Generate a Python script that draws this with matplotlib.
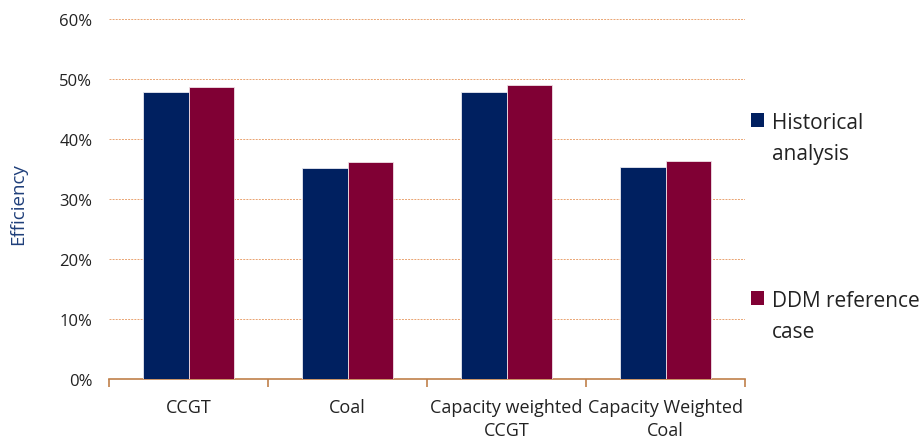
import numpy as np
import matplotlib.pyplot as plt
from matplotlib.patches import Rectangle

categories = ["CCGT", "Coal", "Capacity weighted\nCCGT", "Capacity Weighted\nCoal"]
historical = [47.8, 35.1, 47.9, 35.3]
ddm_reference = [48.6, 36.1, 49.0, 36.4]
series_labels = ["Historical\nanalysis", "DDM reference\ncase"]
yticks = [0, 10, 20, 30, 40, 50, 60]

navy = "#002060"
maroon = "#800034"
brown = "#C0804A"

plt.rcParams['font.family'] = ['Open Sans', 'DejaVu Sans']

W, H = 924, 439
fig = plt.figure(figsize=(W / 100, H / 100), dpi=100)
ax = fig.add_axes([109 / W, 59 / H, 636 / W, 360 / H])

x = np.arange(len(categories))
w = 0.285
ax.bar(x - w / 2, historical, w, color=navy, edgecolor="#e8e8f0", linewidth=0.6, zorder=3)
ax.bar(x + w / 2, ddm_reference, w, color=maroon, edgecolor="#f0e0e6", linewidth=0.6, zorder=3)

ax.set_xlim(-0.5, len(categories) - 0.5)
ax.set_ylim(0, 60)
ax.set_yticks(yticks)
ax.set_yticklabels([f"{v}%" for v in yticks], fontsize=12, color="#222222")
ax.tick_params(axis="y", length=0, pad=12)
ax.yaxis.grid(True, color="#E9A472", linestyle=(0, (2, 1.2)), linewidth=0.7, zorder=0)

ax.set_xticks(x)
ax.set_xticklabels(categories, fontsize=13, color="#222222", linespacing=1.3)
ax.tick_params(axis="x", length=0, pad=14)
ax.set_xticks(np.arange(-0.5, len(categories)), minor=True)
ax.tick_params(axis="x", which="minor", length=6, color=brown, width=1.2, direction="out")

for s in ["top", "right", "left"]:
    ax.spines[s].set_visible(False)
ax.spines["bottom"].set_color(brown)
ax.spines["bottom"].set_linewidth(1.2)

fig.text(18 / W, 1 - 204 / H, "Efficiency", rotation=90, ha="center", va="center",
         fontsize=13.5, color="#1F3F7A")

# legend: square aligned with the first text line, as in office charts
for color, label, sq_top, last_base in zip([navy, maroon], series_labels, [114, 292], [160, 338]):
    fig.patches.append(Rectangle((751 / W, 1 - (sq_top + 14) / H), 13 / W, 14 / H,
                                 facecolor=color, transform=fig.transFigure, figure=fig))
    fig.text(772 / W, 1 - last_base / H, label, ha="left", va="baseline",
             fontsize=15, color="#222222", linespacing=1.6)

fig.savefig("out.png", dpi=100)
